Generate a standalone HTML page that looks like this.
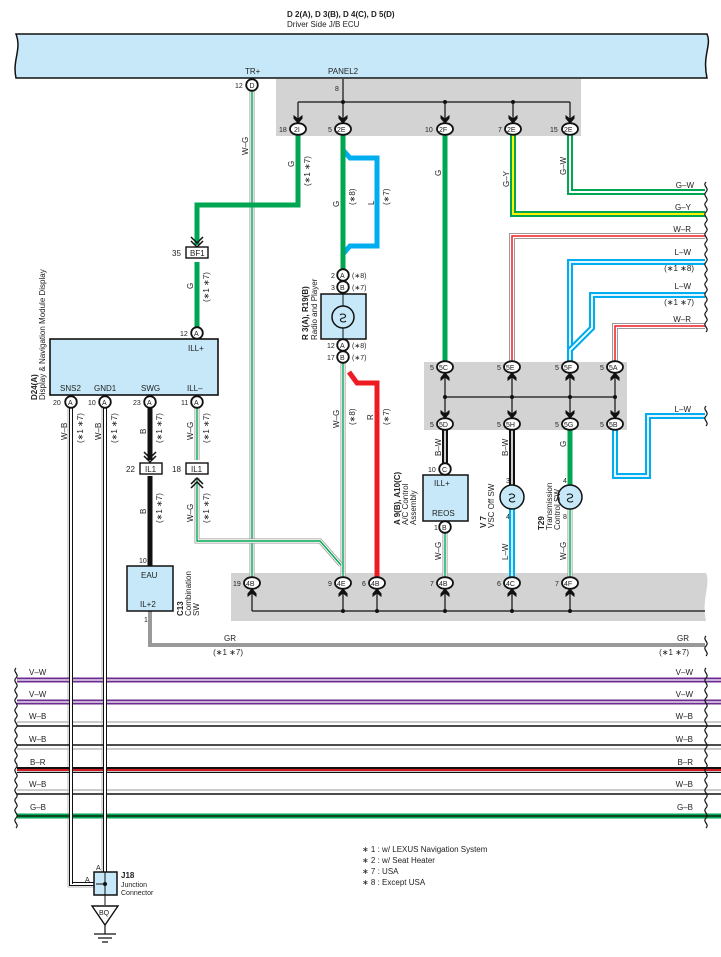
<!DOCTYPE html>
<html><head><meta charset="utf-8">
<style>
html,body{margin:0;padding:0;background:#fff}
svg{display:block}
text{font-family:"Liberation Sans",sans-serif;font-size:8px;fill:#222}
.s{font-size:7px}
.b{font-weight:bold}
</style></head><body>
<svg width="721" height="957" viewBox="0 0 721 957" xmlns="http://www.w3.org/2000/svg">
<defs>
<marker id="ad" viewBox="0 0 10 10" refX="9" refY="5" markerWidth="9" markerHeight="9" markerUnits="userSpaceOnUse" orient="auto">
<path d="M0,0 L4,5 L0,10 L4,10 L10,5 L4,0Z" fill="#111"/></marker>
<g id="pill"><ellipse cx="0" cy="0" rx="8" ry="5.8" fill="#fff" stroke="#111" stroke-width="1.8"/></g>
<g id="circ"><circle cx="0" cy="0" r="5.8" fill="#fff" stroke="#111" stroke-width="1.8"/></g>
</defs>

<text x="287" y="17" class="b">D 2(A), D 3(B), D 4(C), D 5(D)</text>
<text x="287" y="27">Driver Side J/B ECU</text>

<path d="M16,34 H707 C712,45 702,55 707,78 H16 C12,60 22,50 16,34Z" fill="#c6e8f8" stroke="#111" stroke-width="1.5"/>
<text x="245" y="74">TR+</text>
<text x="328" y="74">PANEL2</text>

<rect x="276" y="79" width="305" height="57" fill="#d3d3d3"/>
<rect x="424" y="362" width="203" height="68" fill="#d3d3d3"/>
<path d="M231,573 H706 C711,585 701,600 706,621 H231Z" fill="#d3d3d3"/>

<g stroke="#111" stroke-width="1.2" fill="none">
<path d="M343,79 V102"/>
<path d="M298,102 H570"/>
<path d="M298,102 V123" marker-end="url(#ad)"/>
<path d="M343,102 V123" marker-end="url(#ad)"/>
<path d="M445,102 V123" marker-end="url(#ad)"/>
<path d="M513,102 V123" marker-end="url(#ad)"/>
<path d="M570,102 V123" marker-end="url(#ad)"/>
</g>
<g fill="#111"><circle cx="343" cy="102" r="2"/><circle cx="445" cy="102" r="2"/><circle cx="513" cy="102" r="2"/></g>
<text x="335" y="91" class="s">8</text>

<g fill="none" stroke-linejoin="miter">
<path d="M252,90 V577" stroke="#999" stroke-width="5"/><path d="M252,90 V577" stroke="#fff" stroke-width="3.4"/><path d="M252,90 V577" stroke="#00a651" stroke-width="1.4"/>
<path d="M298,135 V205 H197 V245" stroke="#00a651" stroke-width="5"/>
<path d="M197,262 V328" stroke="#00a651" stroke-width="5"/>
<path d="M343,150 L350,158 H377 V246 H350 L343,254" stroke="#00aeef" stroke-width="5"/>
<path d="M343,135 V270" stroke="#00a651" stroke-width="5"/>
<path d="M445,135 V362" stroke="#00a651" stroke-width="5"/>
<path d="M513,135 V214 H705" stroke="#00a651" stroke-width="6"/><path d="M513,135 V214 H705" stroke="#fff200" stroke-width="2"/>
<path d="M570,135 V192 H705" stroke="#00a651" stroke-width="6"/><path d="M570,135 V192 H705" stroke="#fff" stroke-width="2"/>
<path d="M512,362 V236 H705" stroke="#999" stroke-width="6"/><path d="M512,362 V236 H705" stroke="#fff" stroke-width="4"/><path d="M512,362 V236 H705" stroke="#ed1c24" stroke-width="1.5"/>
<path d="M570,362 V262 H705" stroke="#00aeef" stroke-width="6"/><path d="M570,362 V262 H705" stroke="#fff" stroke-width="1.8"/>
<path d="M570,350 L592,328 V295 H705" stroke="#00aeef" stroke-width="6"/><path d="M570,350 L592,328 V295 H705" stroke="#fff" stroke-width="1.8"/>
<path d="M615,362 V326 H705" stroke="#999" stroke-width="6"/><path d="M615,362 V326 H705" stroke="#fff" stroke-width="4"/><path d="M615,362 V326 H705" stroke="#ed1c24" stroke-width="1.5"/>
<path d="M615,430 V476 H648 V416 H705" stroke="#00aeef" stroke-width="6"/><path d="M615,430 V476 H648 V416 H705" stroke="#fff" stroke-width="1.8"/>
<path d="M445,430 V463" stroke="#111" stroke-width="6"/><path d="M445,430 V463" stroke="#fff" stroke-width="1.6"/>
<path d="M512,430 V486" stroke="#111" stroke-width="6"/><path d="M512,430 V486" stroke="#fff" stroke-width="1.6"/>
<path d="M570,430 V486" stroke="#00a651" stroke-width="5"/>
<path d="M512,509 V577" stroke="#00aeef" stroke-width="6"/><path d="M512,509 V577" stroke="#fff" stroke-width="1.6"/>
<path d="M445,533 V577" stroke="#999" stroke-width="5"/><path d="M445,533 V577" stroke="#fff" stroke-width="3.4"/><path d="M445,533 V577" stroke="#00a651" stroke-width="1.4"/>
<path d="M570,509 V577" stroke="#999" stroke-width="5"/><path d="M570,509 V577" stroke="#fff" stroke-width="3.4"/><path d="M570,509 V577" stroke="#00a651" stroke-width="1.4"/>
<path d="M343,363 V577" stroke="#999" stroke-width="5"/><path d="M343,363 V577" stroke="#fff" stroke-width="3.4"/><path d="M343,363 V577" stroke="#00a651" stroke-width="1.4"/>
<path d="M197,408 V460" stroke="#999" stroke-width="5"/><path d="M197,408 V460" stroke="#fff" stroke-width="3.4"/><path d="M197,408 V460" stroke="#00a651" stroke-width="1.4"/>
<path d="M197,478 V541 H320 L341,565" stroke="#999" stroke-width="5"/><path d="M197,478 V541 H320 L341,565" stroke="#fff" stroke-width="3.4"/><path d="M197,478 V541 H320 L341,565" stroke="#00a651" stroke-width="1.4"/>
<path d="M349,372 L357,383 H377 V577" stroke="#ed1c24" stroke-width="5"/>
<path d="M150,408 V460" stroke="#111" stroke-width="5"/>
<path d="M150,476 V566" stroke="#111" stroke-width="5"/>
<path d="M150,611 V645 H705" stroke="#999" stroke-width="4"/>
<path d="M71,408 V884 H96" stroke="#111" stroke-width="4"/><path d="M71,408 V884 H96" stroke="#fff" stroke-width="2"/>
<path d="M105,408 V872" stroke="#111" stroke-width="4"/><path d="M105,408 V872" stroke="#fff" stroke-width="2"/>
</g>
<g fill="none" stroke="#bbb" stroke-width="1"><path d="M68,408 V887 H96"/><path d="M102,408 V872"/></g>

<g stroke="#111" stroke-width="1.5" fill="none">
<path d="M191,237 L197,243 L203,237 M191,241 L197,247 L203,241"/>
<path d="M144,452 L150,458 L156,452 M144,456 L150,462 L156,456"/>
<path d="M191,484 L197,478 L203,484 M191,488 L197,482 L203,488"/>
</g>
<rect x="186" y="247" width="22" height="11" fill="#fff" stroke="#111" stroke-width="1.4"/><text x="190" y="256">BF1</text>
<text x="172" y="256">35</text>
<rect x="140" y="463" width="22" height="11" fill="#fff" stroke="#111" stroke-width="1.4"/><text x="145" y="472">IL1</text>
<text x="126" y="472">22</text>
<rect x="186" y="463" width="22" height="11" fill="#fff" stroke="#111" stroke-width="1.4"/><text x="191" y="472">IL1</text>
<text x="172" y="472">18</text>

<g stroke="#111" stroke-width="1.2" fill="none">
<path d="M445,397 H615"/>
<path d="M445,397 V373" marker-end="url(#ad)"/><path d="M512,397 V373" marker-end="url(#ad)"/><path d="M570,397 V373" marker-end="url(#ad)"/><path d="M615,397 V373" marker-end="url(#ad)"/>
<path d="M445,397 V418" marker-end="url(#ad)"/><path d="M512,397 V418" marker-end="url(#ad)"/><path d="M570,397 V418" marker-end="url(#ad)"/><path d="M615,397 V418" marker-end="url(#ad)"/>
</g>
<g fill="#111"><circle cx="445" cy="397" r="2"/><circle cx="512" cy="397" r="2"/><circle cx="570" cy="397" r="2"/><circle cx="615" cy="397" r="2"/></g>

<g stroke="#111" stroke-width="1.2" fill="none">
<path d="M252,611 H705"/>
<path d="M252,611 V589" marker-end="url(#ad)"/><path d="M343,611 V589" marker-end="url(#ad)"/><path d="M377,611 V589" marker-end="url(#ad)"/><path d="M445,611 V589" marker-end="url(#ad)"/><path d="M512,611 V589" marker-end="url(#ad)"/><path d="M570,611 V589" marker-end="url(#ad)"/>
</g>
<g fill="#111"><circle cx="343" cy="611" r="2"/><circle cx="377" cy="611" r="2"/><circle cx="445" cy="611" r="2"/><circle cx="512" cy="611" r="2"/><circle cx="570" cy="611" r="2"/></g>

<use href="#circ" x="252" y="85"/><text x="249.5" y="88" class="s">D</text><text x="235" y="88" class="s">12</text>
<use href="#pill" x="298" y="129"/><text x="294" y="132" class="s">2I</text><text x="279" y="132" class="s">18</text>
<use href="#pill" x="343" y="129"/><text x="337" y="132" class="s">2E</text><text x="328" y="132" class="s">5</text>
<use href="#pill" x="445" y="129"/><text x="439" y="132" class="s">2F</text><text x="425" y="132" class="s">10</text>
<use href="#pill" x="513" y="129"/><text x="507" y="132" class="s">2E</text><text x="498" y="132" class="s">7</text>
<use href="#pill" x="570" y="129"/><text x="564" y="132" class="s">2E</text><text x="550" y="132" class="s">15</text>
<use href="#pill" x="445" y="367"/><text x="439" y="370" class="s">5C</text><text x="430" y="370" class="s">5</text>
<use href="#pill" x="512" y="367"/><text x="506" y="370" class="s">5E</text><text x="497" y="370" class="s">5</text>
<use href="#pill" x="570" y="367"/><text x="564" y="370" class="s">5F</text><text x="555" y="370" class="s">5</text>
<use href="#pill" x="615" y="367"/><text x="609" y="370" class="s">5A</text><text x="600" y="370" class="s">5</text>
<use href="#pill" x="445" y="424"/><text x="439" y="427" class="s">5D</text><text x="430" y="427" class="s">5</text>
<use href="#pill" x="512" y="424"/><text x="506" y="427" class="s">5H</text><text x="497" y="427" class="s">5</text>
<use href="#pill" x="570" y="424"/><text x="564" y="427" class="s">5G</text><text x="555" y="427" class="s">5</text>
<use href="#pill" x="615" y="424"/><text x="609" y="427" class="s">5B</text><text x="600" y="427" class="s">5</text>
<use href="#pill" x="252" y="583"/><text x="246" y="586" class="s">4B</text><text x="233" y="586" class="s">19</text>
<use href="#pill" x="343" y="583"/><text x="337" y="586" class="s">4E</text><text x="328" y="586" class="s">9</text>
<use href="#pill" x="377" y="583"/><text x="371" y="586" class="s">4B</text><text x="362" y="586" class="s">6</text>
<use href="#pill" x="445" y="583"/><text x="439" y="586" class="s">4B</text><text x="430" y="586" class="s">7</text>
<use href="#pill" x="512" y="583"/><text x="506" y="586" class="s">4C</text><text x="497" y="586" class="s">6</text>
<use href="#pill" x="570" y="583"/><text x="564" y="586" class="s">4F</text><text x="555" y="586" class="s">7</text>

<rect x="321" y="294" width="45" height="45" fill="#c6e8f8" stroke="#111" stroke-width="1.5"/>
<path d="M343,294 V339" stroke="#111" stroke-width="1"/>
<circle cx="343" cy="317" r="11" fill="#c6e8f8" stroke="#111" stroke-width="1.5"/>
<path d="M340,315 a3,2 0 1 1 3,3 a3,2 0 1 0 3,3" fill="none" stroke="#111" stroke-width="1"/>
<use href="#circ" x="343" y="275"/><text x="340" y="278" class="s">A</text><text x="331" y="278" class="s">2</text><text x="352" y="278" class="s">(∗8)</text>
<use href="#circ" x="343" y="287"/><text x="340" y="290" class="s">B</text><text x="331" y="290" class="s">3</text><text x="352" y="290" class="s">(∗7)</text>
<use href="#circ" x="343" y="345"/><text x="340" y="348" class="s">A</text><text x="327" y="348" class="s">12</text><text x="352" y="348" class="s">(∗8)</text>
<use href="#circ" x="343" y="357"/><text x="340" y="360" class="s">B</text><text x="327" y="360" class="s">17</text><text x="352" y="360" class="s">(∗7)</text>
<text transform="translate(308,340) rotate(-90)" class="b">R 3(A), R19(B)</text>
<text transform="translate(317,340) rotate(-90)">Radio and Player</text>

<rect x="50" y="339" width="168" height="56" fill="#c6e8f8" stroke="#111" stroke-width="1.6"/>
<text x="188" y="351">ILL+</text>
<text x="60" y="391">SNS2</text><text x="94" y="391">GND1</text><text x="141" y="391">SWG</text><text x="187" y="391">ILL–</text>
<use href="#circ" x="197" y="333"/><text x="194" y="336" class="s">A</text><text x="180" y="336" class="s">12</text>
<use href="#circ" x="71" y="402"/><text x="68" y="405" class="s">A</text><text x="53" y="405" class="s">20</text>
<use href="#circ" x="105" y="402"/><text x="102" y="405" class="s">A</text><text x="88" y="405" class="s">10</text>
<use href="#circ" x="150" y="402"/><text x="147" y="405" class="s">A</text><text x="133" y="405" class="s">23</text>
<use href="#circ" x="197" y="402"/><text x="194" y="405" class="s">A</text><text x="181" y="405" class="s">11</text>
<text transform="translate(37,400) rotate(-90)" class="b">D24(A)</text>
<text transform="translate(45,400) rotate(-90)">Display &amp; Navigation Module Display</text>

<rect x="127" y="566" width="46" height="45" fill="#c6e8f8" stroke="#111" stroke-width="1.5"/>
<text x="141" y="578">EAU</text><text x="140" y="607">IL+2</text>
<text x="139" y="563" class="s">10</text><text x="144" y="622" class="s">1</text>
<text transform="translate(183,616) rotate(-90)" class="b">C13</text>
<text transform="translate(191,616) rotate(-90)">Combination</text>
<text transform="translate(199,616) rotate(-90)">SW</text>

<rect x="423" y="475" width="45" height="46" fill="#c6e8f8" stroke="#111" stroke-width="1.5"/>
<text x="434" y="486">ILL+</text><text x="432" y="516">REOS</text>
<use href="#circ" x="445" y="469"/><text x="442" y="472" class="s">C</text><text x="428" y="472" class="s">10</text>
<use href="#circ" x="445" y="527"/><text x="442" y="530" class="s">B</text><text x="434" y="530" class="s">1</text>
<text transform="translate(400,525) rotate(-90)" class="b">A 9(B), A10(C)</text>
<text transform="translate(408,525) rotate(-90)">A/C Control</text>
<text transform="translate(416,525) rotate(-90)">Assembly</text>

<circle cx="512" cy="497" r="12" fill="#c6e8f8" stroke="#111" stroke-width="1.5"/>
<path d="M509,495 a3,2 0 1 1 3,3 a3,2 0 1 0 3,3" fill="none" stroke="#111" stroke-width="1"/>
<text x="506" y="483" class="s">3</text><text x="506" y="519" class="s">4</text>
<text transform="translate(486,528) rotate(-90)" class="b">V 7</text>
<text transform="translate(494,528) rotate(-90)">VSC Off SW</text>
<circle cx="570" cy="497" r="12" fill="#c6e8f8" stroke="#111" stroke-width="1.5"/>
<path d="M567,495 a3,2 0 1 1 3,3 a3,2 0 1 0 3,3" fill="none" stroke="#111" stroke-width="1"/>
<text x="563" y="483" class="s">4</text><text x="563" y="519" class="s">8</text>
<text transform="translate(544,530) rotate(-90)" class="b">T29</text>
<text transform="translate(552,530) rotate(-90)">Transmission</text>
<text transform="translate(560,530) rotate(-90)">Control SW</text>

<g class="s">
<text transform="translate(248,155) rotate(-90)">W–G</text>
<text transform="translate(294,167) rotate(-90)">G</text>
<text transform="translate(310,186) rotate(-90)">(∗1 ∗7)</text>
<text transform="translate(193,289) rotate(-90)">G</text>
<text transform="translate(209,302) rotate(-90)">(∗1 ∗7)</text>
<text transform="translate(339,207) rotate(-90)">G</text>
<text transform="translate(355,205) rotate(-90)">(∗8)</text>
<text transform="translate(374,205) rotate(-90)">L</text>
<text transform="translate(389,205) rotate(-90)">(∗7)</text>
<text transform="translate(441,176) rotate(-90)">G</text>
<text transform="translate(509,187) rotate(-90)">G–Y</text>
<text transform="translate(566,175) rotate(-90)">G–W</text>
<text transform="translate(339,428) rotate(-90)">W–G</text>
<text transform="translate(355,425) rotate(-90)">(∗8)</text>
<text transform="translate(373,420) rotate(-90)">R</text>
<text transform="translate(389,425) rotate(-90)">(∗7)</text>
<text transform="translate(67,440) rotate(-90)">W–B</text>
<text transform="translate(83,443) rotate(-90)">(∗1 ∗7)</text>
<text transform="translate(101,440) rotate(-90)">W–B</text>
<text transform="translate(117,443) rotate(-90)">(∗1 ∗7)</text>
<text transform="translate(146,434) rotate(-90)">B</text>
<text transform="translate(162,443) rotate(-90)">(∗1 ∗7)</text>
<text transform="translate(193,440) rotate(-90)">W–G</text>
<text transform="translate(209,443) rotate(-90)">(∗1 ∗7)</text>
<text transform="translate(146,514) rotate(-90)">B</text>
<text transform="translate(162,523) rotate(-90)">(∗1 ∗7)</text>
<text transform="translate(193,522) rotate(-90)">W–G</text>
<text transform="translate(209,523) rotate(-90)">(∗1 ∗7)</text>
<text transform="translate(441,456) rotate(-90)">B–W</text>
<text transform="translate(508,456) rotate(-90)">B–W</text>
<text transform="translate(566,447) rotate(-90)">G</text>
<text transform="translate(441,560) rotate(-90)">W–G</text>
<text transform="translate(508,560) rotate(-90)">L–W</text>
<text transform="translate(566,560) rotate(-90)">W–G</text>
</g>
<g class="s" text-anchor="end">
<text x="694" y="188">G–W</text>
<text x="691" y="210">G–Y</text>
<text x="691" y="232">W–R</text>
<text x="691" y="255">L–W</text>
<text x="694" y="271">(∗1 ∗8)</text>
<text x="691" y="289">L–W</text>
<text x="694" y="305">(∗1 ∗7)</text>
<text x="691" y="322">W–R</text>
<text x="691" y="412">L–W</text>
<text x="689" y="641">GR</text>
<text x="689" y="655">(∗1 ∗7)</text>
<text x="236" y="641">GR</text>
<text x="243" y="655">(∗1 ∗7)</text>
</g>

<g fill="none" stroke="#111" stroke-width="1.2">
<path d="M706,182 c-4,4 4,6 0,10 c-4,4 4,6 0,10 c-4,4 4,6 0,10 c-4,4 4,6 0,10 c-4,4 4,6 0,10 c-4,4 4,6 0,10 c-4,4 4,6 0,10 c-4,4 4,6 0,10 c-4,4 4,6 0,10 c-4,4 4,6 0,10 M706,282 c-4,4 4,6 0,10 c-4,4 4,6 0,10 c-4,4 4,6 0,10 c-4,4 4,6 0,10 c-4,4 4,6 0,10 M706,406 c-4,4 4,6 0,10 c-4,4 4,6 0,10 M706,636 c-4,4 4,6 0,10 c-4,4 4,6 0,10"/>
</g>

<g fill="none">
<path d="M17,680 H721" stroke="#6d2c91" stroke-width="5"/><path d="M17,680 H721" stroke="#fff" stroke-width="1.3"/>
<path d="M17,702 H721" stroke="#6d2c91" stroke-width="5"/><path d="M17,702 H721" stroke="#fff" stroke-width="1.3"/>
<path d="M17,722 H721" stroke="#bbb" stroke-width="1.5"/><path d="M17,726 H721" stroke="#111" stroke-width="1.5"/>
<path d="M17,745 H721" stroke="#111" stroke-width="1.5"/><path d="M17,749 H721" stroke="#bbb" stroke-width="1.5"/>
<path d="M17,770 H721" stroke="#111" stroke-width="6"/><path d="M17,770 H721" stroke="#ed1c24" stroke-width="1.8"/><path d="M17,771.6 H721" stroke="#fff" stroke-width="0.8"/>
<path d="M17,790 H721" stroke="#bbb" stroke-width="1.5"/><path d="M17,794 H721" stroke="#111" stroke-width="1.5"/>
<path d="M17,816 H721" stroke="#00a651" stroke-width="5"/><path d="M17,816 H721" stroke="#111" stroke-width="1.2"/>
</g>
<g fill="none">
<path d="M71,660 V884" stroke="#111" stroke-width="4"/><path d="M71,660 V884" stroke="#fff" stroke-width="2"/>
<path d="M105,660 V872" stroke="#111" stroke-width="4"/><path d="M105,660 V872" stroke="#fff" stroke-width="2"/>
</g>
<g fill="none" stroke="#111" stroke-width="1.2">
<path d="M16,668 c-4,4 4,6 0,10 c-4,4 4,6 0,10 c-4,4 4,6 0,10 c-4,4 4,6 0,10 c-4,4 4,6 0,10 c-4,4 4,6 0,10 c-4,4 4,6 0,10 c-4,4 4,6 0,10 c-4,4 4,6 0,10 c-4,4 4,6 0,10 c-4,4 4,6 0,10 c-4,4 4,6 0,10 c-4,4 4,6 0,10 c-4,4 4,6 0,10 c-4,4 4,6 0,10 c-4,4 4,6 0,10"/>
<path d="M706,668 c-4,4 4,6 0,10 c-4,4 4,6 0,10 c-4,4 4,6 0,10 c-4,4 4,6 0,10 c-4,4 4,6 0,10 c-4,4 4,6 0,10 c-4,4 4,6 0,10 c-4,4 4,6 0,10 c-4,4 4,6 0,10 c-4,4 4,6 0,10 c-4,4 4,6 0,10 c-4,4 4,6 0,10 c-4,4 4,6 0,10 c-4,4 4,6 0,10 c-4,4 4,6 0,10 c-4,4 4,6 0,10"/>
</g>
<g class="s">
<text x="29" y="675">V–W</text><text x="29" y="697">V–W</text><text x="29" y="719">W–B</text><text x="29" y="742">W–B</text><text x="30" y="765">B–R</text><text x="29" y="787">W–B</text><text x="30" y="810">G–B</text>
</g>
<g class="s" text-anchor="end">
<text x="693" y="675">V–W</text><text x="693" y="697">V–W</text><text x="693" y="719">W–B</text><text x="693" y="742">W–B</text><text x="693" y="765">B–R</text><text x="693" y="787">W–B</text><text x="693" y="810">G–B</text>
</g>

<rect x="94" y="872" width="23" height="23" fill="#c6e8f8" stroke="#111" stroke-width="1.5"/>
<path d="M96,884 H105 M105,872 V905" stroke="#111" stroke-width="1"/>
<circle cx="105" cy="884" r="2" fill="#111"/>
<text x="96" y="870" class="s">A</text><text x="85" y="882" class="s">A</text>
<text x="121" y="878" class="b">J18</text>
<text x="121" y="887" class="s">Junction</text>
<text x="121" y="895" class="s">Connector</text>
<path d="M92,906 H118 L105,925Z" fill="#fff" stroke="#111" stroke-width="1.4"/>
<text x="99" y="915" class="s">BQ</text>
<path d="M105,925 V934 M94,934 H116 M98,938 H112 M102,942 H108" stroke="#111" stroke-width="1.2"/>

<g class="s">
<text x="362" y="852">∗ 1 : w/ LEXUS Navigation System</text>
<text x="362" y="863">∗ 2 : w/ Seat Heater</text>
<text x="362" y="874">∗ 7 : USA</text>
<text x="362" y="885">∗ 8 : Except USA</text>
</g>
</svg>
</body></html>
